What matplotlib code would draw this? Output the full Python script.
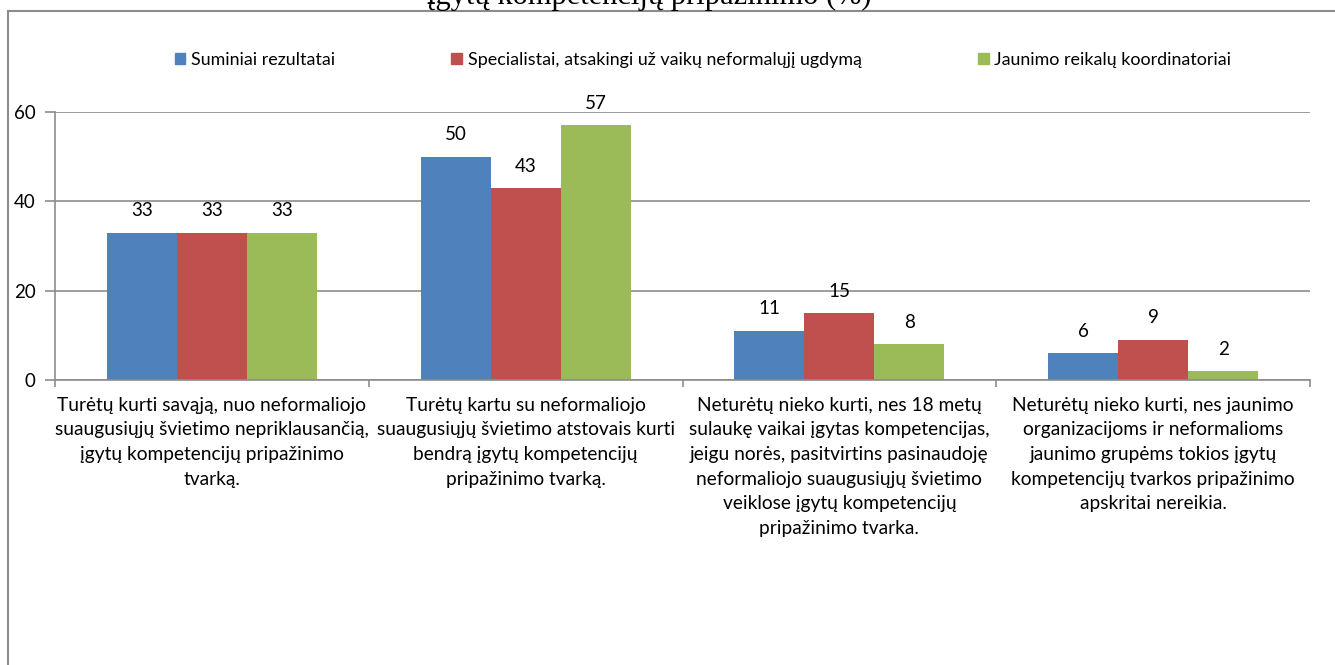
import numpy as np
import matplotlib.pyplot as plt
from matplotlib.lines import Line2D

categories = [
    "Turėtų kurti savąją, nuo neformaliojo\nsuaugusiųjų švietimo nepriklausančią,\nįgytų kompetencijų pripažinimo\ntvarką.",
    "Turėtų kartu su neformaliojo\nsuaugusiųjų švietimo atstovais kurti\nbendrą įgytų kompetencijų\npripažinimo tvarką.",
    "Neturėtų nieko kurti, nes 18 metų\nsulaukę vaikai įgytas kompetencijas,\njeigu norės, pasitvirtins pasinaudoję\nneformaliojo suaugusiųjų švietimo\nveiklose įgytų kompetencijų\npripažinimo tvarka.",
    "Neturėtų nieko kurti, nes jaunimo\norganizacijoms ir neformalioms\njaunimo grupėms tokios įgytų\nkompetencijų tvarkos pripažinimo\napskritai nereikia.",
]
series_names = [
    "Suminiai rezultatai",
    "Specialistai, atsakingi už vaikų neformalųjį ugdymą",
    "Jaunimo reikalų koordinatoriai",
]
suminiai = [33, 50, 11, 6]
specialistai = [33, 43, 15, 9]
koordinatoriai = [33, 57, 8, 2]
colors = ["#4F81BD", "#C0504D", "#9BBB59"]

plt.rcParams['font.family'] = ['Lato', 'DejaVu Sans']

fig = plt.figure(figsize=(13.35, 6.65), dpi=100)
W, H = 1335, 665
ax = fig.add_axes([55 / W, 1 - 380 / H, (1310 - 55) / W, (380 - 112) / H])

x = np.arange(len(categories))
bw = 0.223
for i, (vals, name) in enumerate(zip([suminiai, specialistai, koordinatoriai], series_names)):
    pos = x + (i - 1) * bw
    ax.bar(pos, vals, width=bw, color=colors[i], label=name, zorder=2)
    for xp, v in zip(pos, vals):
        ax.text(xp, v + 3.0, str(v), ha='center', va='bottom', fontsize=13.5, color='black')

ax.set_xlim(-0.5, len(categories) - 0.5)
ax.set_ylim(0, 60)
ax.set_yticks([0, 20, 40, 60])
ax.yaxis.grid(True, color='#8c8c8c', linewidth=1.2, zorder=0)
ax.set_axisbelow(True)

ax.set_xticks(x)
ax.set_xticklabels(categories, fontsize=13.8, linespacing=1.55, va='top')
ax.set_xticks(np.arange(len(categories) + 1) - 0.5, minor=True)
ax.tick_params(axis='x', which='major', length=0, pad=12)
ax.tick_params(axis='x', which='minor', length=5, color='#8c8c8c', width=1.2)
ax.tick_params(axis='y', length=7, color='#8c8c8c', width=1.2, labelsize=13.5, pad=7)

for s in ['top', 'right']:
    ax.spines[s].set_visible(False)
for s in ['left', 'bottom']:
    ax.spines[s].set_color('#8c8c8c')
    ax.spines[s].set_linewidth(1.2)

handles = [plt.Rectangle((0, 0), 1, 1, color=c) for c in colors]
fig.legend(handles, series_names, loc='center', bbox_to_anchor=(0.5265, 1 - 60 / H),
           ncol=3, frameon=False, fontsize=12.9, handlelength=0.6, handleheight=0.6,
           handletextpad=0.3, columnspacing=6.5)

# outer chart border (top and left edges visible)
fig.add_artist(Line2D([8 / W, 1.0], [1 - 11 / H, 1 - 11 / H], transform=fig.transFigure,
                      color='#8c8c8c', linewidth=1.5))
fig.add_artist(Line2D([8 / W, 8 / W], [0, 1 - 11 / H], transform=fig.transFigure,
                      color='#8c8c8c', linewidth=1.5))

# title cut off at the top of the picture
fig.text(0.486, 1 - 4 / H, "įgytų kompetencijų pripažinimo (%)", ha='center', va='baseline',
         fontsize=22, family='Liberation Serif')

fig.savefig("out.png", dpi=100)
